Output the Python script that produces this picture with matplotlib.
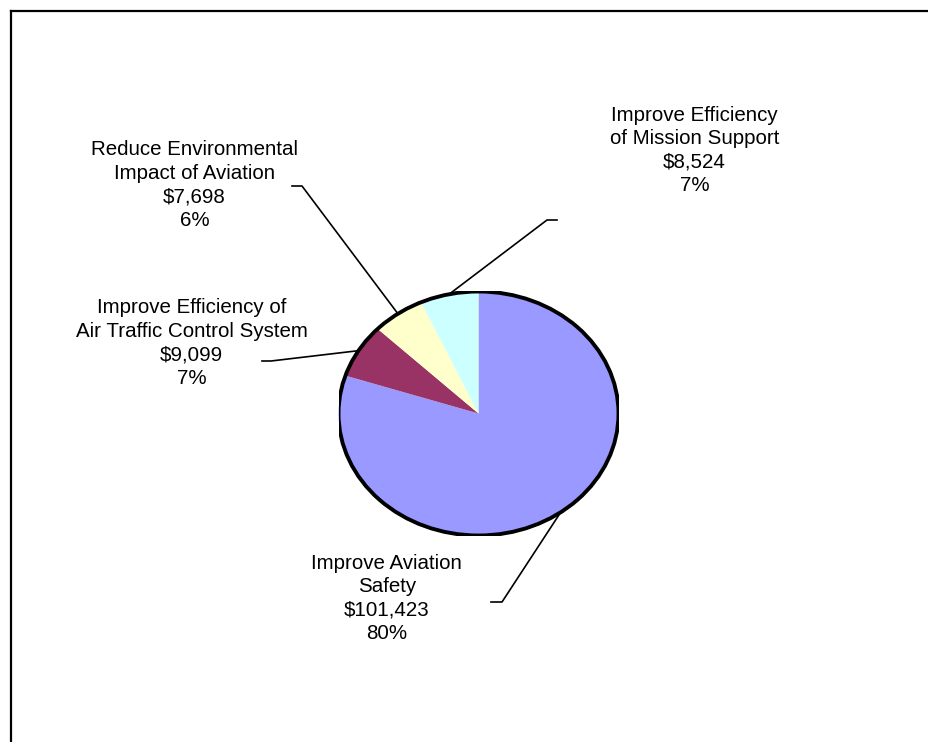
#!/usr/bin/env python3
import numpy as np
import matplotlib
import matplotlib.pyplot as plt
from matplotlib.lines import Line2D
from matplotlib.patches import Circle

matplotlib.use("Agg")

plt.rcParams["font.family"] = ["Liberation Sans", "DejaVu Sans"]

W, H = 929, 742

# Data
goals = [
    "Improve Aviation\nSafety",
    "Improve Efficiency of\nAir Traffic Control System",
    "Reduce Environmental\nImpact of Aviation",
    "Improve Efficiency\nof Mission Support",
]
amounts = [101423, 9099, 7698, 8524]
colors = ["#9999FF", "#993366", "#FFFFCC", "#CCFFFF"]


def px(x, y):
    # image pixel (origin top-left) -> figure fraction
    return x / W, 1 - y / H


fig = plt.figure(figsize=(W / 100, H / 100), dpi=100)

# pie is drawn slightly squashed, like the original
cx, cy, rx, ry = 478.5, 413.5, 140, 122
ax = fig.add_axes([(cx - rx) / W, 1 - (cy + ry) / H, 2 * rx / W, 2 * ry / H])
wedges, _ = ax.pie(amounts, colors=colors, startangle=90, counterclock=False,
                   wedgeprops=dict(linewidth=0))
ax.set_aspect("auto")
ax.set_xlim(-1, 1)
ax.set_ylim(-1, 1)
ax.add_patch(Circle((0, 0), 1, fill=False, edgecolor="black", linewidth=2.8))
ax.axis("off")

# label block centre, elbow and end of the leader line (image pixels)
label_pos = [(386.8, 598.5), (191.5, 343), (194.5, 185), (694.7, 150.5)]
elbows = [((502, 602), (491, 602)), ((271, 361), (262, 361)),
          ((302, 186), (292, 186)), ((547, 220), (557, 220))]

total = sum(amounts)
fig.canvas.draw()
for w, name, amt, (lx, ly), (e1, e2) in zip(wedges, goals, amounts, label_pos, elbows):
    pct = round(100 * amt / total)
    fig.text(*px(lx, ly), f"{name}\n${amt:,}\n{pct}%", ha="center", va="center",
             fontsize=14.8, linespacing=1.29)
    theta = np.deg2rad((w.theta1 + w.theta2) / 2)
    ax_x, ax_y = ax.transData.transform((np.cos(theta), np.sin(theta)))
    xs = [ax_x / W, px(*e1)[0], px(*e2)[0]]
    ys = [ax_y / H, px(*e1)[1], px(*e2)[1]]
    fig.add_artist(Line2D(xs, ys, color="black", linewidth=1.2,
                          transform=fig.transFigure))

# frame (top and left edges visible)
fig.add_artist(Line2D([px(11, 0)[0], 1], [px(0, 11)[1]] * 2, color="black",
                      linewidth=1.6, transform=fig.transFigure))
fig.add_artist(Line2D([px(11, 0)[0]] * 2, [0, px(0, 11)[1]], color="black",
                      linewidth=1.6, transform=fig.transFigure))

fig.savefig("out.png", dpi=100)
